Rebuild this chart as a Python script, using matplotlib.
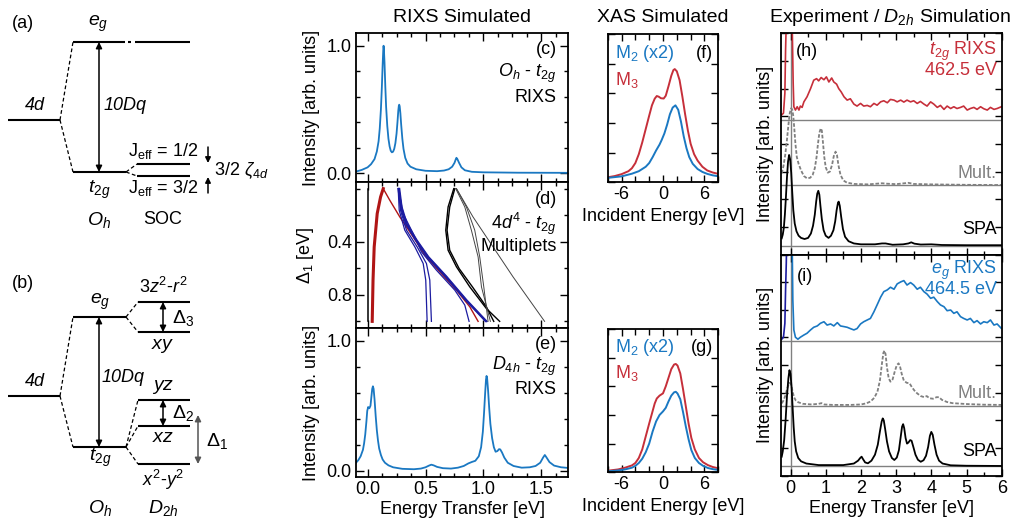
import matplotlib
matplotlib.use("Agg")
import matplotlib.pyplot as plt
from matplotlib.ticker import MultipleLocator, FixedLocator, NullFormatter

plt.rcParams.update({
    "font.family": "Liberation Sans",
    "font.size": 13,
    "mathtext.fontset": "custom",
    "mathtext.rm": "Liberation Sans",
    "mathtext.it": "Liberation Sans:italic",
    "mathtext.bf": "Liberation Sans:bold",
    "axes.unicode_minus": False,
})

BLUE = "#1a78c2"
RED = "#c62f3a"
DRED = "#b01515"
NAVY = "#1c1ca0"
GREY = "#808080"

# ---------------- (c) Oh - t2g RIXS ----------------
c_E = [-0.10, -0.05, 0.0, 0.03, 0.06, 0.08, 0.095, 0.105, 0.115, 0.123, 0.13, 0.135, 0.138, 0.141,
       0.146, 0.153, 0.16, 0.17, 0.18, 0.19, 0.20, 0.21, 0.22, 0.23, 0.24, 0.25, 0.258, 0.265,
       0.27, 0.273, 0.277, 0.283, 0.29, 0.30, 0.31, 0.325, 0.345, 0.37, 0.42, 0.50, 0.60, 0.66,
       0.70, 0.73, 0.75, 0.76, 0.767, 0.775, 0.79, 0.81, 0.84, 0.90, 1.0, 1.3, 1.73]
c_I = [0.012, 0.025, 0.045, 0.07, 0.11, 0.17, 0.25, 0.35, 0.50, 0.67, 0.85, 0.96, 1.0, 0.97,
       0.87, 0.68, 0.52, 0.37, 0.27, 0.21, 0.175, 0.163, 0.168, 0.19, 0.235, 0.31, 0.40, 0.49,
       0.53, 0.537, 0.525, 0.47, 0.38, 0.27, 0.19, 0.12, 0.075, 0.05, 0.03, 0.018, 0.015, 0.02,
       0.03, 0.05, 0.08, 0.105, 0.12, 0.11, 0.08, 0.045, 0.022, 0.01, 0.006, 0.003, 0.002]

# ---------------- (e) D4h - t2g RIXS ----------------
e_E = [-0.10, -0.08, -0.06, -0.04, -0.03, -0.02, -0.01, -0.003, 0.005, 0.015, 0.025, 0.033, 0.04,
       0.046, 0.052, 0.06, 0.07, 0.08, 0.09, 0.10, 0.115, 0.13, 0.15, 0.18, 0.22, 0.30, 0.40,
       0.46, 0.50, 0.53, 0.55, 0.57, 0.60, 0.65, 0.72, 0.78, 0.83, 0.87, 0.90, 0.93, 0.96,
       0.98, 0.995, 1.005, 1.015, 1.022, 1.027, 1.032, 1.04, 1.05, 1.06, 1.075, 1.09, 1.105,
       1.12, 1.135, 1.145, 1.16, 1.18, 1.21, 1.26, 1.33, 1.40, 1.45, 1.49, 1.515, 1.53, 1.545,
       1.57, 1.61, 1.67, 1.73]
e_I = [0.06, 0.08, 0.11, 0.16, 0.21, 0.28, 0.38, 0.46, 0.49, 0.48, 0.50, 0.57, 0.63,
       0.65, 0.63, 0.55, 0.42, 0.31, 0.23, 0.17, 0.12, 0.085, 0.06, 0.04, 0.025, 0.013, 0.01,
       0.015, 0.025, 0.038, 0.045, 0.04, 0.028, 0.018, 0.015, 0.022, 0.035, 0.055, 0.066, 0.075, 0.11,
       0.18, 0.30, 0.44, 0.60, 0.70, 0.73, 0.71, 0.62, 0.48, 0.36, 0.25, 0.18, 0.145,
       0.15, 0.165, 0.163, 0.14, 0.10, 0.06, 0.035, 0.022, 0.025, 0.035, 0.06, 0.10, 0.12, 0.10,
       0.065, 0.038, 0.025, 0.02]

# ---------------- (d) multiplet energies vs Delta1 ----------------
d_black_vert = ([0.0, 0.0], [0.0, 1.0])
d_red_thick = ([0.135, 0.112, 0.083, 0.057, 0.047, 0.04], [0.0, 0.063, 0.188, 0.439, 0.689, 1.0])
d_red_thin = ([0.135, 0.192, 0.278, 0.393, 0.494, 0.623, 0.767, 0.882, 0.954],
              [0.0, 0.088, 0.213, 0.363, 0.501, 0.627, 0.765, 0.89, 1.0])
d_blue_thick = [
    ([0.264, 0.284, 0.328, 0.414, 0.515, 0.672, 0.845, 1.018], [0.0, 0.138, 0.263, 0.388, 0.514, 0.664, 0.84, 1.0]),
    ([0.270, 0.290, 0.334, 0.420, 0.521, 0.679, 0.851, 1.024], [0.0, 0.138, 0.263, 0.388, 0.514, 0.664, 0.84, 1.0]),
    ([0.276, 0.296, 0.340, 0.426, 0.527, 0.685, 0.857, 1.030], [0.0, 0.138, 0.263, 0.388, 0.514, 0.664, 0.84, 1.0]),
]
d_blue_thin = [
    ([0.264, 0.273, 0.321, 0.408, 0.480, 0.502, 0.514], [0.0, 0.163, 0.313, 0.439, 0.564, 0.689, 1.0]),
    ([0.273, 0.284, 0.336, 0.428, 0.508, 0.537, 0.551], [0.0, 0.163, 0.313, 0.439, 0.564, 0.689, 1.0]),
    ([0.267, 0.307, 0.393, 0.465, 0.594, 0.753, 0.839, 0.876], [0.0, 0.188, 0.338, 0.476, 0.614, 0.765, 0.877, 1.0]),
]
d_black_thick = [
    ([0.744, 0.695, 0.675, 0.695, 0.767, 0.882, 1.025, 1.14], [0.0, 0.138, 0.313, 0.464, 0.589, 0.74, 0.903, 1.0]),
    ([0.753, 0.709, 0.686, 0.709, 0.79, 0.905, 1.025, 1.089], [0.0, 0.138, 0.313, 0.464, 0.602, 0.74, 0.89, 1.0]),
]
d_black_thin = [
    ([0.767, 0.853, 0.925, 0.968, 1.003, 1.04], [0.0, 0.138, 0.313, 0.514, 0.74, 1.0]),
    ([0.761, 0.839, 0.896, 0.954, 0.983, 1.06], [0.0, 0.138, 0.313, 0.514, 0.74, 1.0]),
    ([0.767, 0.91, 1.083, 1.255, 1.428, 1.528], [0.0, 0.213, 0.439, 0.664, 0.877, 1.0]),
]

# ---------------- (f), (g) XAS ----------------
f_M3_E = [-8, -7, -6, -5, -4.5, -4, -3.5, -3, -2.5, -2, -1.6, -1.2, -0.9, -0.6, -0.3, 0.1, 0.4,
          0.8, 1.2, 1.5, 1.7, 2.0, 2.4, 2.8, 3.2, 3.6, 4.0, 4.5, 5.0, 5.7, 6.4, 7.2, 8.0]
f_M3_I = [0.034, 0.042, 0.055, 0.075, 0.095, 0.13, 0.19, 0.27, 0.36, 0.45, 0.52, 0.565, 0.583, 0.578,
          0.568, 0.566, 0.585, 0.65, 0.72, 0.758, 0.765, 0.75, 0.69, 0.58, 0.46, 0.35, 0.26, 0.19,
          0.147, 0.105, 0.08, 0.066, 0.057]
f_M2_E = [-8, -6, -4.5, -3.5, -2.5, -2, -1.5, -1.0, -0.5, -0.2, 0.2, 0.6, 1.0, 1.4, 1.8, 2.2, 2.6,
          3.0, 3.4, 3.8, 4.3, 5.0, 5.7, 6.4, 7.2, 8.0]
f_M2_I = [0.03, 0.04, 0.058, 0.075, 0.105, 0.13, 0.17, 0.215, 0.255, 0.285, 0.33, 0.39, 0.46, 0.505,
          0.52, 0.49, 0.41, 0.31, 0.23, 0.17, 0.125, 0.09, 0.07, 0.057, 0.047, 0.041]
g_M3_E = [-8, -6.5, -5.5, -4.5, -4, -3.5, -3, -2.5, -2, -1.6, -1.2, -0.9, -0.5, 0, 0.4, 0.8, 1.2,
          1.6, 1.85, 2.1, 2.5, 2.9, 3.3, 3.7, 4.1, 4.6, 5.2, 5.8, 6.5, 7.2, 8]
g_M3_I = [0.011, 0.02, 0.032, 0.048, 0.065, 0.10, 0.16, 0.25, 0.34, 0.41, 0.48, 0.515, 0.535, 0.551,
          0.60, 0.66, 0.72, 0.752, 0.756, 0.745, 0.69, 0.58, 0.46, 0.34, 0.24, 0.16, 0.10, 0.07,
          0.05, 0.037, 0.028]
g_M2_E = [-8, -6.5, -5.5, -4.5, -4, -3.5, -3, -2.5, -2, -1.5, -1.0, -0.5, 0, 0.4, 0.8, 1.2, 1.6,
          1.85, 2.1, 2.5, 2.9, 3.3, 3.7, 4.1, 4.6, 5.2, 5.8, 6.5, 7.2, 8]
g_M2_I = [0.007, 0.013, 0.02, 0.032, 0.045, 0.065, 0.095, 0.14, 0.20, 0.285, 0.355, 0.40, 0.425,
          0.45, 0.495, 0.535, 0.558, 0.562, 0.55, 0.51, 0.42, 0.32, 0.23, 0.155, 0.10, 0.065,
          0.045, 0.03, 0.022, 0.016]

# ---------------- (h) t2g experiment / simulations ----------------
h_base = [0.608, 0.314, 0.040]
h_exp_E = [-0.25, -0.20, -0.16, -0.14, -0.12, 0.047, 0.076, 0.095, 0.14, 0.19, 0.24, 0.28, 0.33, 0.38,
           0.47, 0.57, 0.66, 0.74, 0.80, 0.87, 0.95, 1.02, 1.09, 1.17, 1.23, 1.31, 1.37, 1.44,
           1.52, 1.61, 1.70, 1.80, 1.89, 1.99, 2.08, 2.18, 2.27, 2.37, 2.46, 2.56, 2.65, 2.75,
           2.84, 2.94, 3.03, 3.13, 3.22, 3.31, 3.41, 3.50, 3.60, 3.69, 3.79, 3.88, 3.98, 4.07,
           4.17, 4.26, 4.36, 4.45, 4.55, 4.64, 4.73, 4.83, 4.92, 5.02, 5.11, 5.21, 5.30, 5.40,
           5.49, 5.59, 5.68, 5.78, 5.87, 5.99]
h_exp_I = [0.631, 0.639, 0.729, 0.925, 1.05, 1.05, 0.774, 0.668, 0.653, 0.668, 0.653, 0.671, 0.665, 0.69,
           0.713, 0.75, 0.788, 0.795, 0.785, 0.80, 0.79, 0.803, 0.78, 0.798, 0.78, 0.77, 0.75, 0.735,
           0.713, 0.698, 0.704, 0.68, 0.671, 0.683, 0.671, 0.674, 0.668, 0.683, 0.675, 0.69, 0.695, 0.686,
           0.701, 0.698, 0.69, 0.698, 0.689, 0.698, 0.69, 0.695, 0.683, 0.692, 0.68, 0.671, 0.69, 0.68,
           0.665, 0.674, 0.656, 0.671, 0.66, 0.668, 0.66, 0.665, 0.671, 0.653, 0.66, 0.665, 0.656, 0.668,
           0.659, 0.653, 0.665, 0.656, 0.66, 0.668]
h_mult_E = [-0.25, -0.20, -0.15, -0.10, -0.05, -0.02, 0.02, 0.05, 0.08, 0.11, 0.14, 0.18, 0.23, 0.30,
            0.38, 0.47, 0.56, 0.63, 0.69, 0.74, 0.78, 0.82, 0.86, 0.89, 0.92, 0.96, 1.00, 1.06,
            1.12, 1.18, 1.23, 1.28, 1.32, 1.36, 1.42, 1.50, 1.60, 1.80, 2.20, 2.60, 2.75, 3.00,
            3.35, 3.50, 4.00, 5.00, 5.99]
h_mult_I = [0.367, 0.40, 0.45, 0.52, 0.60, 0.64, 0.661, 0.655, 0.625, 0.565, 0.50, 0.44, 0.41, 0.38,
            0.355, 0.344, 0.347, 0.36, 0.39, 0.44, 0.50, 0.55, 0.57, 0.56, 0.51, 0.44, 0.395, 0.37,
            0.375, 0.405, 0.445, 0.465, 0.45, 0.405, 0.36, 0.335, 0.325, 0.319, 0.317, 0.322, 0.32, 0.318,
            0.324, 0.319, 0.317, 0.315, 0.314]
h_spa_E = [-0.25, -0.22, -0.19, -0.16, -0.13, -0.10, -0.07, -0.04, -0.01, 0.02, 0.05, 0.08, 0.12, 0.17,
           0.23, 0.30, 0.40, 0.50, 0.58, 0.64, 0.69, 0.73, 0.76, 0.79, 0.82, 0.85, 0.89, 0.94,
           1.00, 1.08, 1.15, 1.22, 1.27, 1.31, 1.35, 1.37, 1.40, 1.44, 1.49, 1.55, 1.65, 1.80,
           2.00, 2.40, 2.60, 2.70, 2.90, 3.20, 3.35, 3.43, 3.52, 3.70, 4.00, 4.30, 5.00, 5.99]
h_spa_I = [0.073, 0.09, 0.12, 0.18, 0.26, 0.35, 0.42, 0.45, 0.43, 0.37, 0.28, 0.20, 0.14, 0.105,
           0.085, 0.075, 0.07, 0.075, 0.095, 0.13, 0.18, 0.24, 0.275, 0.288, 0.27, 0.22, 0.16, 0.11,
           0.085, 0.075, 0.085, 0.11, 0.15, 0.20, 0.235, 0.239, 0.22, 0.17, 0.115, 0.08, 0.06, 0.05,
           0.046, 0.046, 0.05, 0.05, 0.044, 0.046, 0.05, 0.055, 0.049, 0.045, 0.046, 0.043, 0.042, 0.042]

# ---------------- (i) eg experiment / simulations ----------------
i_base = [0.607, 0.314, 0.044]
i_elastic_E = [-0.25, -0.20, -0.16, -0.14, -0.12, -0.11]
i_elastic_I = [0.617, 0.626, 0.689, 0.84, 0.96, 1.05]
i_exp_E = [0.047, 0.066, 0.095, 0.14, 0.21, 0.28, 0.38, 0.47, 0.57, 0.66, 0.76, 0.85, 0.95, 1.04,
           1.14, 1.23, 1.33, 1.42, 1.52, 1.61, 1.70, 1.80, 1.89, 1.99, 2.08, 2.18, 2.27, 2.37,
           2.46, 2.56, 2.65, 2.75, 2.84, 2.94, 3.03, 3.13, 3.22, 3.31, 3.41, 3.50, 3.60, 3.69,
           3.79, 3.88, 3.98, 4.07, 4.17, 4.26, 4.36, 4.45, 4.55, 4.64, 4.73, 4.83, 4.92, 5.02,
           5.11, 5.21, 5.30, 5.40, 5.49, 5.59, 5.68, 5.78, 5.87, 5.99]
i_exp_I = [1.05, 0.794, 0.659, 0.626, 0.617, 0.626, 0.636, 0.644, 0.659, 0.671, 0.677, 0.689, 0.696, 0.681,
           0.686, 0.677, 0.692, 0.677, 0.674, 0.671, 0.665, 0.659, 0.665, 0.686, 0.696, 0.704, 0.711, 0.741,
           0.772, 0.807, 0.832, 0.84, 0.852, 0.843, 0.867, 0.876, 0.882, 0.862, 0.873, 0.862, 0.843, 0.852,
           0.832, 0.821, 0.802, 0.807, 0.787, 0.772, 0.764, 0.746, 0.749, 0.734, 0.741, 0.719, 0.711, 0.704,
           0.711, 0.692, 0.701, 0.686, 0.696, 0.692, 0.704, 0.681, 0.686, 0.666]
i_mult_E = [-0.25, -0.20, -0.15, -0.10, -0.05, -0.02, 0.02, 0.06, 0.10, 0.15, 0.22, 0.35, 0.60, 0.80,
            0.88, 0.96, 1.20, 1.70, 2.00, 2.15, 2.27, 2.38, 2.47, 2.54, 2.60, 2.64, 2.67, 2.70,
            2.74, 2.79, 2.84, 2.90, 2.96, 3.02, 3.07, 3.11, 3.16, 3.22, 3.30, 3.38, 3.45, 3.52,
            3.60, 3.70, 3.80, 3.87, 3.95, 4.05, 4.15, 4.22, 4.30, 4.45, 4.60, 5.00, 5.50, 5.99]
i_mult_I = [0.327, 0.34, 0.36, 0.39, 0.415, 0.42, 0.41, 0.38, 0.355, 0.34, 0.332, 0.325, 0.322, 0.325,
            0.328, 0.322, 0.32, 0.32, 0.322, 0.327, 0.335, 0.352, 0.38, 0.43, 0.51, 0.556, 0.565, 0.55,
            0.49, 0.44, 0.425, 0.435, 0.47, 0.50, 0.508, 0.495, 0.46, 0.43, 0.42, 0.418, 0.40, 0.385,
            0.372, 0.36, 0.355, 0.36, 0.35, 0.348, 0.355, 0.355, 0.343, 0.333, 0.328, 0.324, 0.321, 0.32]
i_spa_E = [-0.25, -0.22, -0.18, -0.14, -0.10, -0.06, -0.03, 0.0, 0.03, 0.06, 0.09, 0.12, 0.16, 0.22,
           0.30, 0.45, 0.80, 1.50, 1.80, 1.92, 1.98, 2.02, 2.06, 2.12, 2.20, 2.30, 2.40, 2.48,
           2.54, 2.59, 2.62, 2.65, 2.69, 2.74, 2.80, 2.88, 2.95, 3.02, 3.08, 3.13, 3.17, 3.20,
           3.23, 3.27, 3.31, 3.35, 3.40, 3.44, 3.49, 3.55, 3.62, 3.70, 3.78, 3.85, 3.91, 3.96,
           4.00, 4.04, 4.09, 4.15, 4.22, 4.32, 4.55, 5.00, 5.99]
i_spa_I = [0.086, 0.11, 0.16, 0.25, 0.36, 0.44, 0.477, 0.46, 0.40, 0.31, 0.22, 0.155, 0.11, 0.08,
           0.065, 0.055, 0.048, 0.048, 0.055, 0.068, 0.08, 0.086, 0.075, 0.06, 0.056, 0.068, 0.095, 0.14,
           0.20, 0.245, 0.259, 0.25, 0.21, 0.155, 0.11, 0.08, 0.071, 0.082, 0.115, 0.175, 0.222, 0.233,
           0.215, 0.17, 0.145, 0.15, 0.161, 0.158, 0.13, 0.095, 0.072, 0.063, 0.07, 0.09, 0.13, 0.18,
           0.198, 0.185, 0.14, 0.095, 0.068, 0.055, 0.047, 0.045, 0.044]

# ---------------- energy level diagrams (pixel layout) ----------------
a_levels = {"4d": (8, 60, 120), "t2g": (73, 126, 172), "j12": (137, 190, 164), "j32": (137, 190, 176)}
a_eg_pieces = [(73, 125), (128.5, 131.5), (135, 190)]
a_eg_y = 42
b_levels = {"4d": (8, 60, 396), "eg": (73, 126, 317), "t2g": (73, 126, 447),
            "z2": (138, 190, 302), "xy": (138, 190, 332), "yz": (138, 190, 400),
            "xz": (138, 190, 426), "x2y2": (138, 190, 464)}

fig = plt.figure(figsize=(10.12, 5.24), dpi=100)

bg = fig.add_axes([0, 0, 1, 1])
bg.set_xlim(0, 1012)
bg.set_ylim(524, 0)
bg.axis("off")


def level(ax, lv):
    x0, x1, y = lv
    ax.plot([x0, x1], [y, y], color="black", lw=1.5, solid_capstyle="butt")


def dash(ax, p, q):
    ax.plot([p[0], q[0]], [p[1], q[1]], color="black", lw=0.9, ls=(0, (3, 2)))


def darrow(ax, x, y0, y1, color="black"):
    ax.annotate("", xy=(x, y1), xytext=(x, y0),
                arrowprops=dict(arrowstyle="<|-|>", color=color, lw=1.1,
                                mutation_scale=9, shrinkA=0, shrinkB=0))


def sarrow(ax, x, y0, y1):
    ax.annotate("", xy=(x, y1), xytext=(x, y0),
                arrowprops=dict(arrowstyle="-|>", color="black", lw=1.1,
                                mutation_scale=8, shrinkA=0, shrinkB=0))


# (a)
for lv in a_levels.values():
    level(bg, lv)
for x0, x1 in a_eg_pieces:
    bg.plot([x0, x1], [a_eg_y, a_eg_y], color="black", lw=1.5, solid_capstyle="butt")
dash(bg, (60, 120), (73, 42))
dash(bg, (60, 120), (73, 172))
dash(bg, (126, 172), (137, 164))
dash(bg, (126, 172), (137, 176))
darrow(bg, 99, 42, 172)
sarrow(bg, 208, 147, 163)
sarrow(bg, 208, 193, 177)
bg.text(12, 24, "(a)", fontsize=13, va="center")
bg.text(35, 106, "4d", fontsize=13, style="italic", ha="center", va="center")
bg.text(98, 24, "$e_g$", fontsize=14, ha="center", va="center")
bg.text(104, 106, "10Dq", fontsize=13, style="italic", ha="left", va="center")
bg.text(99, 190, "$t_{2g}$", fontsize=14, ha="center", va="center")
bg.text(128, 151, r"J$_{\rm eff}$ = 1/2", fontsize=13, ha="left", va="center")
bg.text(128, 188, r"J$_{\rm eff}$ = 3/2", fontsize=13, ha="left", va="center")
bg.text(214, 171, r"3/2 $\zeta_{4d}$", fontsize=13, ha="left", va="center")
bg.text(99, 220, "$O_h$", fontsize=14, ha="center", va="center")
bg.text(163, 220, "SOC", fontsize=13, ha="center", va="center")

# (b)
for lv in b_levels.values():
    level(bg, lv)
dash(bg, (60, 396), (73, 317))
dash(bg, (60, 396), (73, 447))
dash(bg, (126, 317), (138, 302))
dash(bg, (126, 317), (138, 332))
for yy in (400, 426, 464):
    dash(bg, (126, 447), (138, yy))
darrow(bg, 99, 317, 447)
darrow(bg, 163, 302, 332)
darrow(bg, 163, 400, 426)
darrow(bg, 198, 415, 464, color="#555555")
bg.text(12, 284, "(b)", fontsize=13, va="center")
bg.text(35, 382, "4d", fontsize=13, style="italic", ha="center", va="center")
bg.text(100, 302, "$e_g$", fontsize=14, ha="center", va="center")
bg.text(102, 378, "10Dq", fontsize=13, style="italic", ha="left", va="center")
bg.text(100, 458, "$t_{2g}$", fontsize=14, ha="center", va="center")
bg.text(163, 287, "$3z^2$-$r^2$", fontsize=13, ha="center", va="center")
bg.text(163, 346, "$xy$", fontsize=14, ha="center", va="center")
bg.text(172, 318, r"$\Delta_3$", fontsize=14, ha="left", va="center")
bg.text(163, 387, "$yz$", fontsize=14, ha="center", va="center")
bg.text(172, 413, r"$\Delta_2$", fontsize=14, ha="left", va="center")
bg.text(163, 437, "$xz$", fontsize=14, ha="center", va="center")
bg.text(206, 441, r"$\Delta_1$", fontsize=14, ha="left", va="center")
bg.text(163, 480, "$x^2$-$y^2$", fontsize=13, ha="center", va="center")
bg.text(100, 508, "$O_h$", fontsize=14, ha="center", va="center")
bg.text(163, 508, "$D_{2h}$", fontsize=14, ha="center", va="center")


def style(ax, major=6, minor=3):
    ax.tick_params(which="both", direction="in", top=True, right=True, width=1.0, labelsize=13, pad=3)
    ax.tick_params(which="major", length=major)
    ax.tick_params(which="minor", length=minor)
    for s in ax.spines.values():
        s.set_linewidth(1.3)


def px_axes(left, right, top, bottom):
    return fig.add_axes([left / 1012, (524 - bottom) / 524, (right - left) / 1012, (bottom - top) / 524])


one_dec = plt.FuncFormatter(lambda v, p: f"{v:.1f}")

# ---------------- RIXS simulated column ----------------
ax_c = px_axes(356, 568, 33, 182)
ax_d = px_axes(356, 568, 182, 328)
ax_e = px_axes(356, 568, 328, 477)

for ax in (ax_c, ax_d, ax_e):
    ax.set_xlim(-0.1, 1.73)
    ax.xaxis.set_major_locator(MultipleLocator(0.5))
    ax.xaxis.set_minor_locator(MultipleLocator(0.125))
    style(ax)

ax_c.plot(c_E, c_I, color=BLUE, lw=1.3)
ax_c.set_ylim(-0.07, 1.1)
ax_c.yaxis.set_major_locator(FixedLocator([0.0, 1.0]))
ax_c.yaxis.set_minor_locator(MultipleLocator(0.2))
ax_c.yaxis.set_major_formatter(one_dec)
ax_c.tick_params(labelbottom=False)
ax_c.set_ylabel("Intensity [arb. units]")
ax_c.yaxis.set_label_coords(-0.17, 0.5)
ax_c.text(0.947, 0.886, "(c)", transform=ax_c.transAxes, ha="right", va="center")
ax_c.text(0.947, 0.73, "$O_h$ - $t_{2g}$", transform=ax_c.transAxes, ha="right", va="center")
ax_c.text(0.947, 0.57, "RIXS", transform=ax_c.transAxes, ha="right", va="center")

ax_d.plot(*d_black_vert, color="black", lw=1.1)
ax_d.plot(*d_red_thick, color=DRED, lw=2.2)
ax_d.plot(*d_red_thin, color=DRED, lw=1.0)
for xs, ys in d_blue_thick:
    ax_d.plot(xs, ys, color=NAVY, lw=1.1)
for xs, ys in d_blue_thin:
    ax_d.plot(xs, ys, color=NAVY, lw=0.9)
for xs, ys in d_black_thick:
    ax_d.plot(xs, ys, color="black", lw=1.0)
for xs, ys in d_black_thin:
    ax_d.plot(xs, ys, color="#444444", lw=0.7)
ax_d.set_ylim(1.05, -0.05)
ax_d.yaxis.set_major_locator(FixedLocator([0.4, 0.8]))
ax_d.yaxis.set_minor_locator(MultipleLocator(0.2))
ax_d.tick_params(labelbottom=False)
ax_d.set_ylabel(r"$\Delta_1$ [eV]")
ax_d.yaxis.set_label_coords(-0.19, 0.5)
ax_d.text(0.947, 0.88, "(d)", transform=ax_d.transAxes, ha="right", va="center")
ax_d.text(0.947, 0.715, "$4d^4$ - $t_{2g}$", transform=ax_d.transAxes, ha="right", va="center")
ax_d.text(0.947, 0.555, "Multiplets", transform=ax_d.transAxes, ha="right", va="center")

ax_e.plot(e_E, e_I, color=BLUE, lw=1.3)
ax_e.set_ylim(-0.05, 1.1)
ax_e.yaxis.set_major_locator(FixedLocator([0.0, 1.0]))
ax_e.yaxis.set_minor_locator(MultipleLocator(0.2))
ax_e.yaxis.set_major_formatter(one_dec)
ax_e.xaxis.set_major_formatter(one_dec)
ax_e.set_ylabel("Intensity [arb. units]")
ax_e.yaxis.set_label_coords(-0.17, 0.5)
ax_e.set_xlabel("Energy Transfer [eV]", labelpad=2)
ax_e.text(0.947, 0.886, "(e)", transform=ax_e.transAxes, ha="right", va="center")
ax_e.text(0.947, 0.74, "$D_{4h}$ - $t_{2g}$", transform=ax_e.transAxes, ha="right", va="center")
ax_e.text(0.947, 0.584, "RIXS", transform=ax_e.transAxes, ha="right", va="center")

# ---------------- XAS column ----------------
ax_f = px_axes(607.7, 718.3, 34.3, 182.3)
ax_g = px_axes(607.7, 718.3, 329, 472.3)
for ax, m3e, m3i, m2e, m2i, tag in ((ax_f, f_M3_E, f_M3_I, f_M2_E, f_M2_I, "(f)"),
                                    (ax_g, g_M3_E, g_M3_I, g_M2_E, g_M2_I, "(g)")):
    ax.plot(m3e, m3i, color=RED, lw=1.4)
    ax.plot(m2e, m2i, color=BLUE, lw=1.4)
    ax.set_xlim(-8, 8)
    ax.set_ylim(0, 1)
    ax.xaxis.set_major_locator(MultipleLocator(6))
    ax.xaxis.set_minor_locator(MultipleLocator(2))
    ax.yaxis.set_major_locator(MultipleLocator(0.2))
    ax.yaxis.set_major_formatter(NullFormatter())
    style(ax, major=5, minor=4)
    ax.set_xlabel("Incident Energy [eV]", labelpad=3)
    ax.text(0.07, 0.87, "M$_2$ (x2)", color=BLUE, transform=ax.transAxes, ha="left", va="center")
    ax.text(0.07, 0.69, "M$_3$", color=RED, transform=ax.transAxes, ha="left", va="center")
    ax.text(0.95, 0.87, tag, transform=ax.transAxes, ha="right", va="center")

# ---------------- experiment column ----------------
ax_h = px_axes(781, 1001.7, 33.3, 254.5)
ax_i = px_axes(781, 1001.7, 254.5, 475.7)

for ax in (ax_h, ax_i):
    ax.set_xlim(-0.27, 6.0)
    ax.set_ylim(0, 1)
    ax.axvline(0, color=GREY, lw=1.0, zorder=1)
    ax.xaxis.set_major_locator(MultipleLocator(1))
    ax.xaxis.set_minor_locator(MultipleLocator(0.5))
    ax.yaxis.set_major_locator(MultipleLocator(0.125))
    ax.yaxis.set_major_formatter(NullFormatter())
    style(ax, major=5, minor=3)
    ax.set_ylabel("Intensity [arb. units]")
    ax.yaxis.set_label_coords(-0.03, 0.5)

for b in h_base:
    ax_h.axhline(b, color=GREY, lw=1.0, zorder=1)
ax_h.plot(h_exp_E, h_exp_I, color=RED, lw=1.2)
ax_h.plot(h_mult_E, h_mult_I, color=GREY, lw=1.3, ls=(0, (2, 1)))
ax_h.plot(h_spa_E, h_spa_I, color="black", lw=1.3)
ax_h.tick_params(labelbottom=False)
ax_h.text(0.116, 0.917, "(h)", transform=ax_h.transAxes, ha="center", va="center")
ax_h.text(0.977, 0.917, "$t_{2g}$ RIXS", color=RED, transform=ax_h.transAxes, ha="right", va="center")
ax_h.text(0.977, 0.834, "462.5 eV", color=RED, transform=ax_h.transAxes, ha="right", va="center")
ax_h.text(0.977, 0.367, "Mult.", color=GREY, transform=ax_h.transAxes, ha="right", va="center")
ax_h.text(0.977, 0.111, "SPA", color="black", transform=ax_h.transAxes, ha="right", va="center")

for b in i_base:
    ax_i.axhline(b, color=GREY, lw=1.0, zorder=1)
ax_i.plot(i_elastic_E, i_elastic_I, color=NAVY, lw=1.2)
ax_i.plot(i_exp_E, i_exp_I, color=BLUE, lw=1.2)
ax_i.plot(i_mult_E, i_mult_I, color=GREY, lw=1.3, ls=(0, (2, 1)))
ax_i.plot(i_spa_E, i_spa_I, color="black", lw=1.3)
ax_i.set_xlabel("Energy Transfer [eV]", labelpad=2)
ax_i.text(0.109, 0.9, "(i)", transform=ax_i.transAxes, ha="center", va="center")
ax_i.text(0.977, 0.927, "$e_g$ RIXS", color=BLUE, transform=ax_i.transAxes, ha="right", va="center")
ax_i.text(0.977, 0.843, "464.5 eV", color=BLUE, transform=ax_i.transAxes, ha="right", va="center")
ax_i.text(0.977, 0.373, "Mult.", color=GREY, transform=ax_i.transAxes, ha="right", va="center")
ax_i.text(0.977, 0.108, "SPA", color="black", transform=ax_i.transAxes, ha="right", va="center")

# column titles
bg.text(462, 17, "RIXS Simulated", fontsize=14, ha="center", va="center")
bg.text(663, 18, "XAS Simulated", fontsize=14, ha="center", va="center")
bg.text(890, 18, "Experiment / $D_{2h}$ Simulation", fontsize=14, ha="center", va="center")

fig.savefig("out.png", dpi=100)
